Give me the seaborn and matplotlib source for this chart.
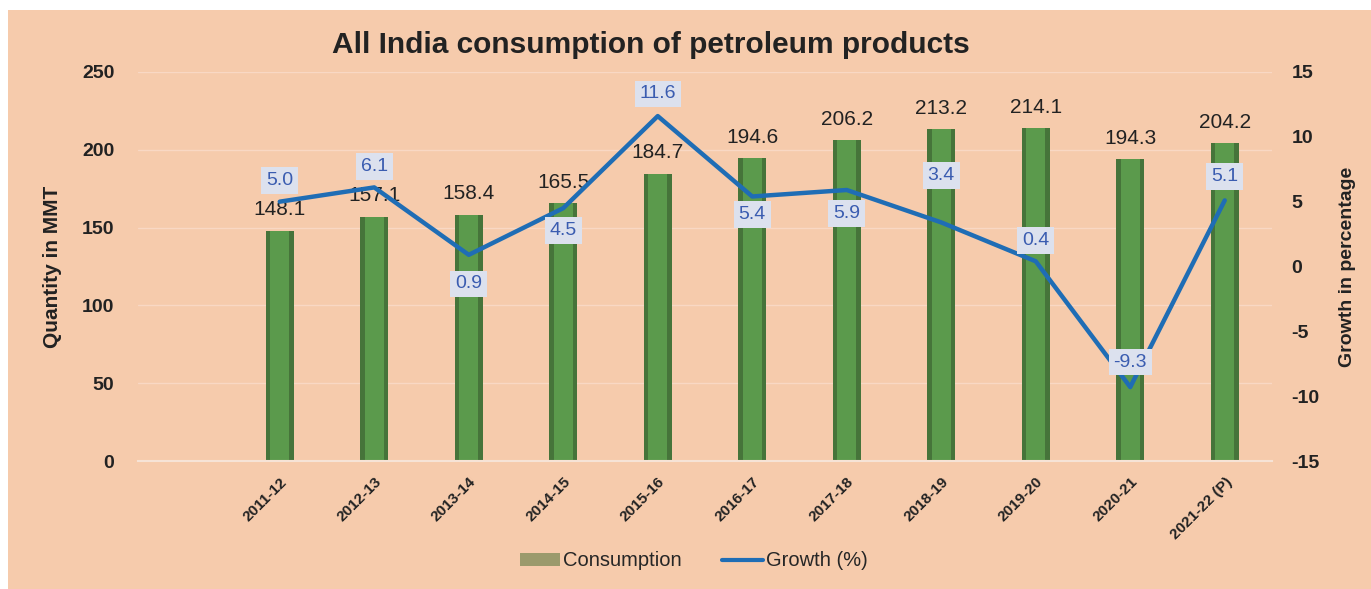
import matplotlib
matplotlib.use('Agg')
import matplotlib.pyplot as plt
import matplotlib.patches as mpatches
from matplotlib.lines import Line2D
import seaborn as sns
import pandas as pd
import numpy as np

# Data (first slot is empty in the original)
years = ['', '2011-12', '2012-13', '2013-14', '2014-15', '2015-16', '2016-17',
         '2017-18', '2018-19', '2019-20', '2020-21', '2021-22 (P)']
consumption = [np.nan, 148.1, 157.1, 158.4, 165.5, 184.7, 194.6,
               206.2, 213.2, 214.1, 194.3, 204.2]
growth = [np.nan, 5.0, 6.1, 0.9, 4.5, 11.6, 5.4, 5.9, 3.4, 0.4, -9.3, 5.1]
# label above (+) or below (-) the line point, in points
growth_offset = [0, 15, 15, -21, -16, 16, -13, -17, 34, 15, 18, 17]

bg = '#F6CBAC'
line_blue = '#1f6db5'

sns.set_theme(style='white')
plt.rcParams['font.family'] = ['Liberation Sans', 'DejaVu Sans']
plt.rcParams['axes.unicode_minus'] = False

fig = plt.figure(figsize=(13.71, 5.89), dpi=100)
fig.patch.set_facecolor('white')
fig.patches.append(mpatches.Rectangle((8 / 1371, 0), 1 - 8 / 1371, 1 - 10 / 589,
                                      transform=fig.transFigure, facecolor=bg,
                                      edgecolor='none', zorder=-10))

ax = fig.add_axes([138 / 1371, 1 - 461 / 589, (1272 - 138) / 1371, (461 - 72) / 589])
ax.set_facecolor('none')

df = pd.DataFrame({'Year': years, 'Consumption': consumption})
# darker outer bar + lighter inner bar to mimic the shaded cylinders
sns.barplot(data=df, x='Year', y='Consumption', order=years, color='#46743a',
            width=0.3, saturation=1, linewidth=0, ax=ax)
sns.barplot(data=df, x='Year', y='Consumption', order=years, color='#5b9a4c',
            width=0.2, saturation=1, linewidth=0, ax=ax)

ax.set_ylim(0, 250)
ax.set_xlim(-0.5, len(years) - 0.5)
ax.set_yticks(range(0, 251, 50))
ax.yaxis.grid(True, color='#f9d8c4', linewidth=1)
ax.set_axisbelow(True)
for s in ['top', 'right', 'left']:
    ax.spines[s].set_visible(False)
ax.spines['bottom'].set_color('#f6e3d6')
ax.spines['bottom'].set_linewidth(1.5)
ax.tick_params(axis='y', length=0, pad=17, labelsize=14)
ax.tick_params(axis='x', length=0, pad=10)
for t in ax.get_yticklabels():
    t.set_fontweight('bold')
    t.set_color('#222222')
ax.set_xticks(range(len(years)))
ax.set_xticklabels(years, rotation=45, ha='right', rotation_mode='anchor',
                   fontsize=11, fontweight='bold', color='#222222')
ax.set_xlabel('')
ax.set_ylabel('Quantity in MMT', fontsize=15, fontweight='bold', color='#222222', labelpad=14)

for i, v in enumerate(consumption):
    if not np.isnan(v):
        ax.annotate(f'{v:.1f}', (i, v), xytext=(0, 8), textcoords='offset points',
                    ha='center', va='bottom', fontsize=15, color='#222222')

ax2 = ax.twinx()
xpos = np.arange(len(years))
sns.lineplot(x=xpos[1:], y=growth[1:], color=line_blue, linewidth=3.2, ax=ax2, zorder=3)
ax2.set_ylim(-15, 15)
ax2.set_yticks(range(-15, 16, 5))
for s in ax2.spines.values():
    s.set_visible(False)
ax2.tick_params(axis='y', length=0, pad=14, labelsize=14)
for t in ax2.get_yticklabels():
    t.set_fontweight('bold')
    t.set_color('#222222')
ax2.set_ylabel('Growth in percentage', fontsize=14, fontweight='bold', color='#222222',
               labelpad=14)

for i in range(1, len(years)):
    off = growth_offset[i]
    ax2.annotate(f'{growth[i]:.1f}', (i, growth[i]), xytext=(0, off), textcoords='offset points',
                 ha='center', va='center', fontsize=14, color='#3a5cb0', zorder=5,
                 bbox=dict(boxstyle='square,pad=0.25', facecolor='#dce1ee', edgecolor='none'))

fig.text(0.475, 1 - 45 / 589, 'All India consumption of petroleum products',
         ha='center', va='center', fontsize=21.5, fontweight='bold', color='#222222')

handles = [mpatches.Patch(facecolor='#9b9a6c', edgecolor='none', label='Consumption'),
           Line2D([0], [0], color=line_blue, linewidth=3, label='Growth (%)')]
fig.legend(handles=handles, loc='center', bbox_to_anchor=(0.506, 1 - 561 / 589), ncol=2,
           frameon=False, fontsize=14.5, handlelength=2.0, handleheight=0.6,
           handletextpad=0.15, columnspacing=2.0)

fig.savefig('out.png', dpi=100, facecolor=fig.get_facecolor())
